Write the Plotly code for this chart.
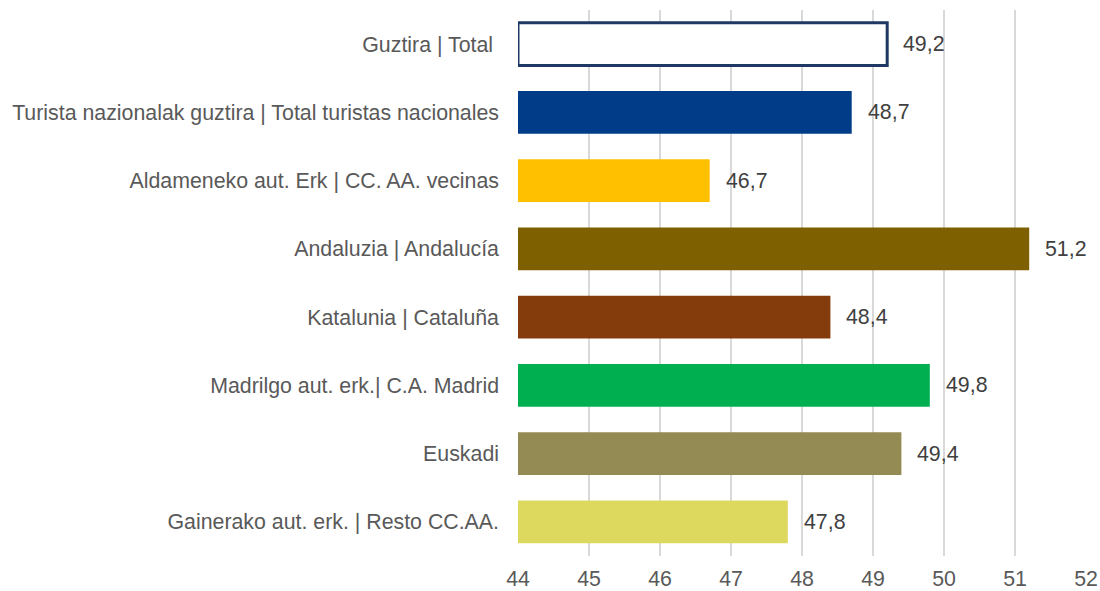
import plotly.graph_objects as go

categories = [
    "Guztira | Total ",
    "Turista nazionalak guztira | Total turistas nacionales",
    "Aldameneko aut. Erk | CC. AA. vecinas",
    "Andaluzia | Andalucía",
    "Katalunia | Cataluña",
    "Madrilgo aut. erk.| C.A. Madrid",
    "Euskadi",
    "Gainerako aut. erk. | Resto CC.AA.",
]
values = [49.2, 48.7, 46.7, 51.2, 48.4, 49.8, 49.4, 47.8]
fill_colors = ["#FFFFFF", "#003C87", "#FFC000", "#7F6000", "#843C0C", "#00B050", "#948A54", "#DDD95F"]
line_colors = ["#1F3864", "#003C87", "#FFC000", "#7F6000", "#843C0C", "#00B050", "#948A54", "#DDD95F"]
line_widths = [3, 0, 0, 0, 0, 0, 0, 0]
x_ticks = [44, 45, 46, 47, 48, 49, 50, 51, 52]

FONT = "Liberation Sans, Arial"
FS = 21.33

fig = go.Figure()
fig.add_trace(go.Bar(
    y=categories,
    x=[v - 44 for v in values],
    base=44,
    orientation="h",
    marker=dict(color=fill_colors, line=dict(color=line_colors, width=line_widths)),
    hoverinfo="skip",
))

for c, v in zip(categories, values):
    fig.add_annotation(
        x=v, y=c, text=f"{v:.1f}".replace(".", ","),
        xanchor="left", yanchor="middle", xshift=14, showarrow=False,
        font=dict(family=FONT, size=FS, color="#404040"),
    )

fig.update_layout(
    template="none",
    width=1100, height=591,
    margin=dict(l=518, r=14, t=10, b=35),
    paper_bgcolor="white", plot_bgcolor="white",
    bargap=0.37,
    showlegend=False,
    font=dict(family=FONT, size=FS, color="#595959"),
    xaxis=dict(
        range=[44, 52], tickvals=x_ticks, ticktext=[str(t) for t in x_ticks],
        showgrid=True, gridcolor="#D9D9D9", gridwidth=1.5,
        zeroline=False, showline=False, ticks="", automargin=False,
        ticklabelstandoff=8,
        tickfont=dict(family=FONT, size=FS, color="#595959"),
    ),
    yaxis=dict(
        categoryorder="array", categoryarray=categories, autorange="reversed",
        showgrid=False, showline=False, zeroline=False, ticks="", ticklabelstandoff=18,
        automargin=False,
        tickfont=dict(family=FONT, size=FS, color="#595959"),
    ),
)

fig.write_html(
    "out.html",
    config={"displayModeBar": False},
    post_script="document.body.style.margin='0';document.body.style.overflow='hidden';",
)
